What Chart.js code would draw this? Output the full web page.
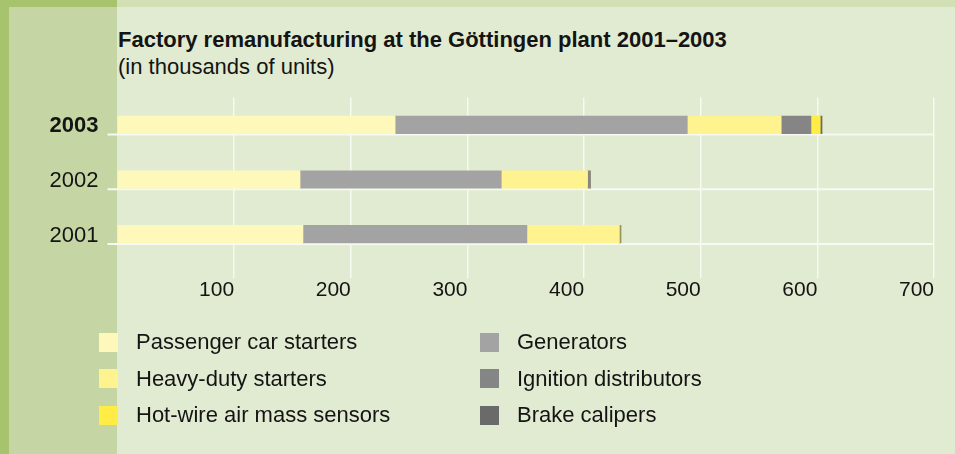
<!DOCTYPE html>
<html>
<head>
<meta charset="utf-8">
<script src="https://cdn.jsdelivr.net/npm/chart.js@4/dist/chart.umd.min.js"></script>
<style>
    body { margin: 0; }
    #page {
        position: relative;
        width: 955px;
        height: 454px;
        background: #e1ebd1;
        font-family: "Liberation Sans", Arial, sans-serif;
        color: #141414;
        overflow: hidden;
    }
    .band { position: absolute; left: 0; top: 0; width: 955px; height: 7px; background: #d3e0b6; }
    .stripe { position: absolute; left: 0; top: 0; width: 9px; height: 454px; background: #a8c36e; }
    .panel { position: absolute; left: 9px; top: 7px; width: 108px; height: 447px; background: #c5d5a3; }
    .corner { position: absolute; left: 0; top: 0; width: 117px; height: 7px; background: #a8c36e; }
    #titulo {
        position: absolute;
        left: 118px;
        top: 26px;
        font-size: 22px;
        line-height: 27.3px;
    }
    #titulo b { font-weight: bold; }
    #chart-wrap { position: absolute; left: 0; top: 0; width: 955px; height: 454px; }
    #leyenda {
        position: absolute;
        left: 99px;
        top: 324px;
        display: grid;
        grid-template-columns: 381px 300px;
        grid-template-rows: repeat(3, 36.5px);
        grid-auto-flow: column;
        font-size: 22px;
    }
    .item { display: flex; align-items: center; }
    .item span.sq { width: 19px; height: 19px; margin-right: 18px; flex: none; }
</style>
</head>
<body>
<div id="page">
    <div class="band"></div>
    <div class="stripe"></div>
    <div class="panel"></div>
    <div class="corner"></div>
    <div id="titulo"><b>Factory remanufacturing at the Göttingen plant 2001–2003</b><br>(in thousands of units)</div>
    <div id="chart-wrap"><canvas id="aforoChart"></canvas></div>
    <div id="leyenda"></div>
</div>
<script>
const years = ['2003', '2002', '2001'];
const passengerCar = [238, 156.5, 159];
const generators = [250.5, 172.5, 192];
const heavyDuty = [80.5, 74, 79];
const ignition = [25.5, 2.5, 0];
const hotWire = [8, 0, 0.8];
const brakeCalipers = [1.5, 0, 0.8];
const xTicks = [100, 200, 300, 400, 500, 600, 700];
const legendOrder = [0, 2, 4, 1, 3, 5];

const FONT = '"Liberation Sans", Arial, sans-serif';

// lineas blancas bajo cada barra
const lineasBarras = {
    id: 'lineasBarras',
    beforeDatasetsDraw(chart) {
        const { ctx, chartArea } = chart;
        const meta = chart.getDatasetMeta(0);
        ctx.save();
        ctx.strokeStyle = '#f7faf2';
        ctx.lineWidth = 2;
        meta.data.forEach(bar => {
            const y = bar.y + bar.height / 2 + 1;
            ctx.beginPath();
            ctx.moveTo(chartArea.left - 10, y);
            ctx.lineTo(chartArea.right, y);
            ctx.stroke();
        });
        ctx.restore();
    }
};

function crearGrafico() {
    const ctx = document.getElementById('aforoChart').getContext('2d');
    const chart = new Chart(ctx, {
        type: 'bar',
        data: {
            labels: years,
            datasets: [
                { label: 'Passenger car starters', data: passengerCar, backgroundColor: '#fff8bb' },
                { label: 'Generators', data: generators, backgroundColor: '#a3a3a3' },
                { label: 'Heavy-duty starters', data: heavyDuty, backgroundColor: '#fff38f' },
                { label: 'Ignition distributors', data: ignition, backgroundColor: '#858585' },
                { label: 'Hot-wire air mass sensors', data: hotWire, backgroundColor: '#ffec45' },
                { label: 'Brake calipers', data: brakeCalipers, backgroundColor: '#6a6a6a' }
            ]
        },
        options: {
            indexAxis: 'y',
            responsive: true,
            maintainAspectRatio: false,
            animation: false,
            layout: { padding: { top: 97.5, right: 21, bottom: 152.5, left: 0 } },
            datasets: { bar: { barThickness: 17.5, borderWidth: 0 } },
            scales: {
                x: {
                    type: 'linear',
                    stacked: true,
                    min: 0,
                    max: 700,
                    afterBuildTicks: scale => {
                        scale.ticks = xTicks.map(v => ({ value: v }));
                    },
                    afterFit: scale => { scale.height = 40; },
                    ticks: {
                        align: 'end',
                        padding: 0,
                        color: '#141414',
                        font: { family: FONT, size: 21 }
                    },
                    grid: { color: '#f7faf2', lineWidth: 1.5, tickLength: 16.5, drawTicks: true },
                    border: { display: false }
                },
                y: {
                    stacked: true,
                    afterFit: scale => { scale.width = 117.5; },
                    grid: { display: false, drawTicks: false },
                    border: { display: false },
                    ticks: {
                        padding: 19,
                        labelOffset: 1.5,
                        color: '#141414',
                        font: c => ({ family: FONT, size: 22, weight: c.index === 0 ? 'bold' : 'normal' })
                    }
                }
            },
            plugins: {
                legend: { display: false },
                tooltip: { enabled: false }
            }
        },
        plugins: [lineasBarras]
    });
    return chart;
}

function crearLeyenda(chart) {
    const cont = document.getElementById('leyenda');
    legendOrder.forEach(i => {
        const ds = chart.data.datasets[i];
        const item = document.createElement('div');
        item.className = 'item';
        item.innerHTML = `<span class="sq" style="background:${ds.backgroundColor}"></span><span>${ds.label}</span>`;
        cont.appendChild(item);
    });
}

document.addEventListener('DOMContentLoaded', () => {
    const chart = crearGrafico();
    crearLeyenda(chart);
});
</script>
</body>
</html>
